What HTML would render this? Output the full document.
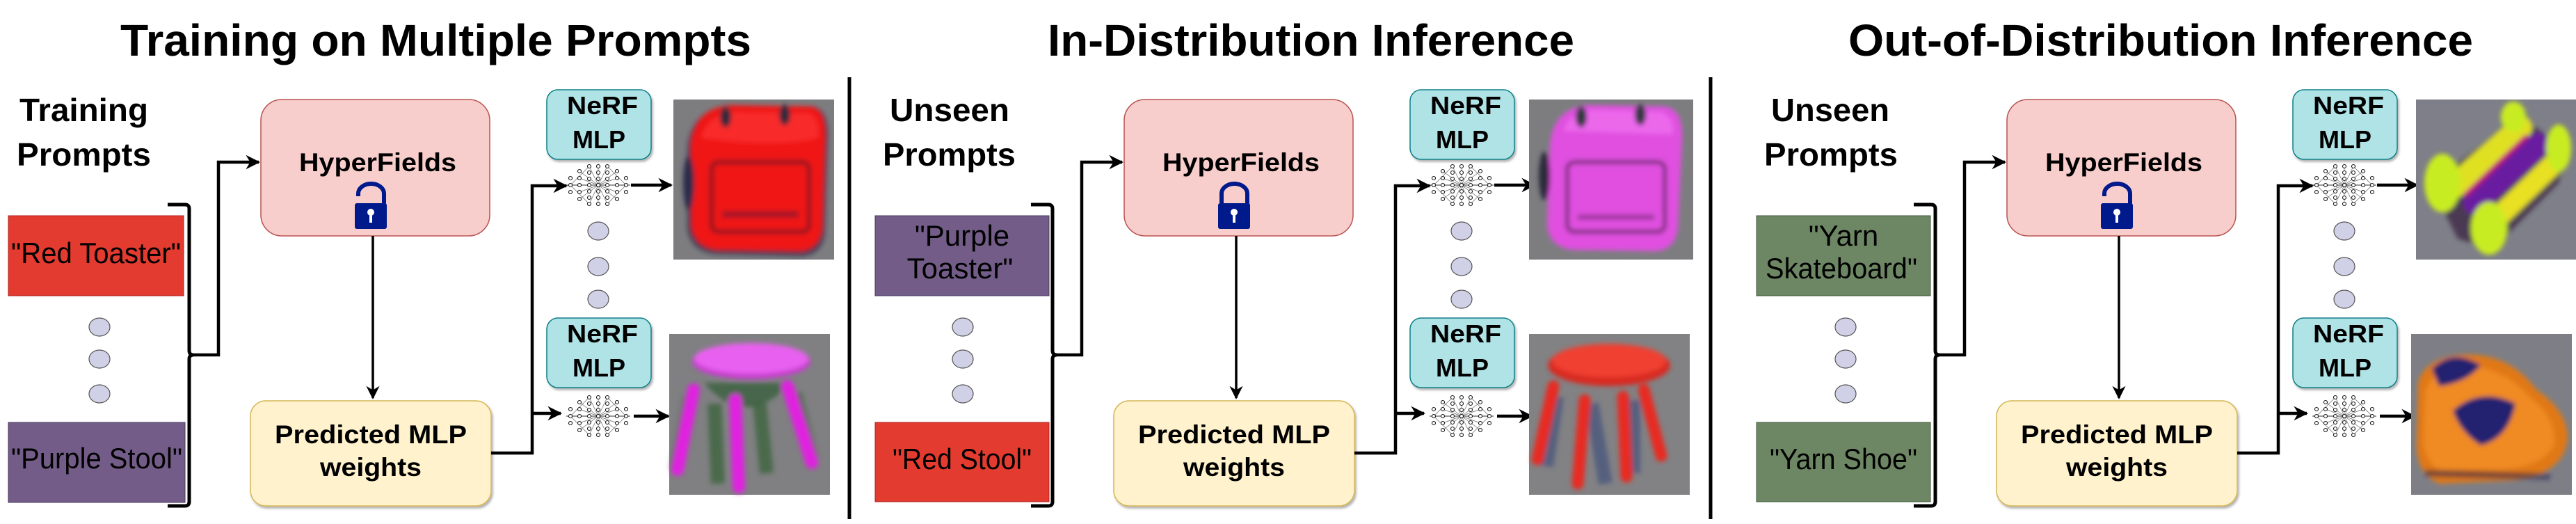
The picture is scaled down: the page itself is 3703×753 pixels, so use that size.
<!DOCTYPE html>
<html><head><meta charset="utf-8"><style>
html,body{margin:0;padding:0;background:#fff;}
svg{display:block;}
text{font-family:"Liberation Sans",Arial,sans-serif;}
</style></head><body>
<svg width="3703" height="753" viewBox="0 0 3703 753" xmlns="http://www.w3.org/2000/svg">
<defs>
<marker id="ah" viewBox="0 0 10 10" refX="9" refY="5" markerWidth="4.6" markerHeight="4.6" orient="auto" markerUnits="strokeWidth">
<path d="M0,0 L10,5 L0,10 L3,5 z" fill="#000"/></marker>
<marker id="ah2" viewBox="0 0 10 10" refX="9" refY="5" markerWidth="5.5" markerHeight="5.5" orient="auto" markerUnits="strokeWidth">
<path d="M0,0 L10,5 L0,10 L3,5 z" fill="#000"/></marker>
<filter id="bl" x="-20%" y="-20%" width="140%" height="140%"><feGaussianBlur stdDeviation="5"/></filter>
<filter id="bl2" x="-20%" y="-20%" width="140%" height="140%"><feGaussianBlur stdDeviation="3.5"/></filter>
<filter id="sh"><feDropShadow dx="2" dy="3" stdDeviation="1.5" flood-color="#000" flood-opacity="0.3"/></filter>
<g id="net" fill="#fff" stroke="#111" stroke-width="1.1">
<line x1="-46" y1="0" x2="46" y2="0" stroke="#333" stroke-width="1"/>
<g stroke="#666" stroke-width="0.7">
<line x1="-40" y1="0" x2="-13" y2="-27"/><line x1="-40" y1="0" x2="-13" y2="27"/>
<line x1="40" y1="0" x2="13" y2="-27"/><line x1="40" y1="0" x2="13" y2="27"/>
<line x1="-27" y1="-20" x2="27" y2="20"/><line x1="-27" y1="20" x2="27" y2="-20"/>
<line x1="-27" y1="-10" x2="27" y2="10"/><line x1="-27" y1="10" x2="27" y2="-10"/>
<line x1="0" y1="-30" x2="0" y2="30"/><line x1="-13" y1="-27" x2="13" y2="27"/><line x1="13" y1="-27" x2="-13" y2="27"/></g>
<circle cx="-40" cy="-10" r="2.5"/><circle cx="-40" cy="0" r="2.5"/><circle cx="-40" cy="10" r="2.5"/>
<circle cx="-27" cy="-20" r="2.5"/><circle cx="-27" cy="-10" r="2.5"/><circle cx="-27" cy="0" r="2.5"/><circle cx="-27" cy="10" r="2.5"/><circle cx="-27" cy="20" r="2.5"/>
<circle cx="-13" cy="-27" r="2.5"/><circle cx="-13" cy="-18" r="2.5"/><circle cx="-13" cy="-9" r="2.5"/><circle cx="-13" cy="0" r="2.5"/><circle cx="-13" cy="9" r="2.5"/><circle cx="-13" cy="18" r="2.5"/><circle cx="-13" cy="27" r="2.5"/>
<circle cx="0" cy="-27" r="2.5"/><circle cx="0" cy="-18" r="2.5"/><circle cx="0" cy="-9" r="2.5"/><circle cx="0" cy="0" r="2.5"/><circle cx="0" cy="9" r="2.5"/><circle cx="0" cy="18" r="2.5"/><circle cx="0" cy="27" r="2.5"/>
<circle cx="13" cy="-27" r="2.5"/><circle cx="13" cy="-18" r="2.5"/><circle cx="13" cy="-9" r="2.5"/><circle cx="13" cy="0" r="2.5"/><circle cx="13" cy="9" r="2.5"/><circle cx="13" cy="18" r="2.5"/><circle cx="13" cy="27" r="2.5"/>
<circle cx="27" cy="-20" r="2.5"/><circle cx="27" cy="-10" r="2.5"/><circle cx="27" cy="0" r="2.5"/><circle cx="27" cy="10" r="2.5"/><circle cx="27" cy="20" r="2.5"/>
<circle cx="40" cy="-10" r="2.5"/><circle cx="40" cy="0" r="2.5"/><circle cx="40" cy="10" r="2.5"/>
</g>
<g id="dot"><ellipse rx="15" ry="13" fill="#d0d0e6" stroke="#555" stroke-width="1.2"/></g>
<g id="lockU" fill="#001a8c">
<path d="M515,282 V278 A18.5,14 0 0 1 552,278 V294" fill="none" stroke="#001a8c" stroke-width="6"/>
<rect x="510" y="292" width="46" height="37" rx="3"/>
<circle cx="533" cy="305" r="5" fill="#fff"/><rect x="531" y="305" width="4" height="15" fill="#fff"/>
</g>
<g id="lockL" fill="#001a8c">
<path d="M515,294 V278 A18.5,14 0 0 1 552,278 V294" fill="none" stroke="#001a8c" stroke-width="6"/>
<rect x="510" y="292" width="46" height="37" rx="3"/>
<circle cx="533" cy="305" r="5" fill="#fff"/><rect x="531" y="305" width="4" height="15" fill="#fff"/>
</g>
<g id="common">
<path d="M241,294 H266 Q272,294 272,300 V504 Q272,510 278,510 Q272,510 272,516 V721 Q272,727 266,727 H241" fill="none" stroke="#000" stroke-width="5"/>
<path d="M272,510 H314 V233 H372" fill="none" stroke="#000" stroke-width="4.5" marker-end="url(#ah)"/>
<rect x="375" y="143" width="329" height="196" rx="30" fill="#f8cecc" stroke="#b85450" stroke-width="1.5"/>
<text x="543" y="246" font-size="37" font-weight="bold" text-anchor="middle" textLength="226" lengthAdjust="spacingAndGlyphs">HyperFields</text>
<line x1="536" y1="339" x2="536" y2="572" stroke="#000" stroke-width="3.5" marker-end="url(#ah2)"/>
<rect x="360" y="576" width="346" height="151" rx="22" fill="#fff2cc" stroke="#d6b656" stroke-width="1.5" filter="url(#sh)"/>
<text x="533" y="637" font-size="37" font-weight="bold" text-anchor="middle" textLength="276" lengthAdjust="spacingAndGlyphs">Predicted MLP</text>
<text x="533" y="684" font-size="37" font-weight="bold" text-anchor="middle" textLength="146" lengthAdjust="spacingAndGlyphs">weights</text>
<path d="M706,651 H765 V267 H814" fill="none" stroke="#000" stroke-width="4.5" marker-end="url(#ah)"/>
<path d="M765,594 H806" fill="none" stroke="#000" stroke-width="4.5" marker-end="url(#ah)"/>
<use href="#net" x="860" y="266"/>
<use href="#net" x="860" y="598"/>
<path d="M907,266 H965" fill="none" stroke="#000" stroke-width="4.5" marker-end="url(#ah)"/>
<path d="M911,598 H961" fill="none" stroke="#000" stroke-width="4.5" marker-end="url(#ah)"/>
<rect x="786" y="129" width="150" height="100" rx="16" fill="#b0e3e6" stroke="#0e8088" stroke-width="1.5" filter="url(#sh)"/>
<text x="866" y="164" font-size="36" font-weight="bold" text-anchor="middle" textLength="102" lengthAdjust="spacingAndGlyphs">NeRF</text>
<text x="861" y="213" font-size="36" font-weight="bold" text-anchor="middle">MLP</text>
<rect x="786" y="457" width="150" height="100" rx="16" fill="#b0e3e6" stroke="#0e8088" stroke-width="1.5" filter="url(#sh)"/>
<text x="866" y="492" font-size="36" font-weight="bold" text-anchor="middle" textLength="102" lengthAdjust="spacingAndGlyphs">NeRF</text>
<text x="861" y="541" font-size="36" font-weight="bold" text-anchor="middle">MLP</text>
<use href="#dot" x="860" y="332"/><use href="#dot" x="860" y="383"/><use href="#dot" x="860" y="430"/>
<use href="#dot" x="143" y="470"/><use href="#dot" x="143" y="516"/><use href="#dot" x="143" y="566"/>
</g>
<clipPath id="ic"><rect x="0" y="0" width="231" height="230"/></clipPath>
</defs>

<text x="173" y="80" font-size="64" font-weight="bold" textLength="907" lengthAdjust="spacingAndGlyphs">Training on Multiple Prompts</text>
<text x="1506" y="80" font-size="64" font-weight="bold" textLength="757" lengthAdjust="spacingAndGlyphs">In-Distribution Inference</text>
<text x="2657" y="80" font-size="64" font-weight="bold" textLength="898" lengthAdjust="spacingAndGlyphs">Out-of-Distribution Inference</text>

<line x1="1221" y1="111" x2="1221" y2="746" stroke="#000" stroke-width="5"/>
<line x1="2459" y1="111" x2="2459" y2="746" stroke="#000" stroke-width="5"/>

<!-- Panel 1 -->
<use href="#common"/>
<use href="#lockU"/>
<text x="28" y="174" font-size="46" font-weight="bold" textLength="185" lengthAdjust="spacingAndGlyphs">Training</text>
<text x="24" y="238" font-size="46" font-weight="bold" textLength="193" lengthAdjust="spacingAndGlyphs">Prompts</text>
<rect x="12" y="310" width="252" height="115" fill="#e43b30" stroke="#b02020" stroke-width="1"/>
<text x="138" y="378" font-size="42" text-anchor="middle" textLength="244" lengthAdjust="spacingAndGlyphs">"Red Toaster"</text>
<rect x="12" y="607" width="254" height="115" fill="#735d88" stroke="#4a3a60" stroke-width="1"/>
<text x="139" y="673" font-size="42" text-anchor="middle" textLength="246" lengthAdjust="spacingAndGlyphs">"Purple Stool"</text>
<g transform="translate(968,143)">
<rect width="231" height="230" fill="#7d7d80"/>
<g clip-path="url(#ic)"><g filter="url(#bl2)">
<path d="M20,70 Q25,15 80,10 L200,10 Q225,15 222,60 L218,190 Q215,222 185,225 L60,222 Q25,218 20,185 Z" fill="#1e2040" opacity="0.7"/>
<path d="M25,65 Q30,12 82,8 L198,10 Q220,14 218,58 L214,185 Q210,215 183,218 L62,216 Q30,212 26,182 Z" fill="#f01818"/>
<path d="M40,55 Q50,20 90,18 L195,20 Q210,25 208,55 Q150,70 40,55Z" fill="#ff3a3a" opacity="0.6"/>
<rect x="55" y="90" width="140" height="100" rx="10" fill="none" stroke="#4a1a2a" stroke-width="6" opacity="0.6"/>
<rect x="70" y="160" width="110" height="10" fill="#3a1a3a" opacity="0.4"/>
<ellipse cx="75" cy="25" rx="8" ry="15" fill="#2a2a3a"/>
<ellipse cx="160" cy="22" rx="8" ry="15" fill="#2a2a3a"/>
<ellipse cx="22" cy="120" rx="8" ry="40" fill="#2a2a4a"/>
</g></g></g>
<g transform="translate(962,480)">
<rect width="231" height="231" fill="#808082"/>
<g filter="url(#bl2)">
<path d="M30,90 L10,195 M65,100 L70,215 M130,100 L140,200 M180,85 L205,180" stroke="#2a5a2a" stroke-width="20" opacity="0.6"/>
<path d="M50,70 Q110,140 175,70" fill="#2d5d35" opacity="0.7"/>
<path d="M35,80 L12,195 M95,95 L100,220 M170,75 L205,185" stroke="#e020e0" stroke-width="18" stroke-linecap="round" fill="none"/>
<ellipse cx="118" cy="40" rx="85" ry="25" fill="#c83ed0"/>
<ellipse cx="118" cy="35" rx="82" ry="22" fill="#e860f0"/>
</g></g>

<!-- Panel 2 -->
<g transform="translate(1241,0)">
<use href="#common"/>
<use href="#lockL"/>
</g>
<text x="1279" y="174" font-size="46" font-weight="bold" textLength="172" lengthAdjust="spacingAndGlyphs">Unseen</text>
<text x="1269" y="238" font-size="46" font-weight="bold" textLength="191" lengthAdjust="spacingAndGlyphs">Prompts</text>
<rect x="1258" y="310" width="250" height="115" fill="#735d88" stroke="#4a3a60" stroke-width="1"/>
<text x="1383" y="353" font-size="42" text-anchor="middle">"Purple</text>
<text x="1380" y="400" font-size="42" text-anchor="middle">Toaster"</text>
<rect x="1258" y="607" width="250" height="114" fill="#e43b30" stroke="#b02020" stroke-width="1"/>
<text x="1383" y="674" font-size="42" text-anchor="middle" textLength="200" lengthAdjust="spacingAndGlyphs">"Red Stool"</text>
<g transform="translate(2198,143)">
<rect width="236" height="230" fill="#7d7d80"/>
<g filter="url(#bl2)">
<path d="M30,65 Q35,12 85,8 L195,10 Q222,14 220,58 L214,185 Q210,215 183,218 L62,216 Q30,212 26,182 Z" fill="#e050e0"/>
<path d="M50,45 Q60,15 95,15 L190,18 Q210,25 206,50 Z" fill="#f070f0" opacity="0.7"/>
<rect x="55" y="90" width="140" height="100" rx="10" fill="none" stroke="#3a1a3a" stroke-width="6" opacity="0.6"/>
<rect x="70" y="165" width="110" height="8" fill="#602060" opacity="0.5"/>
<ellipse cx="75" cy="25" rx="8" ry="15" fill="#2a3a3a"/>
<ellipse cx="160" cy="22" rx="8" ry="15" fill="#2a3a3a"/>
<ellipse cx="22" cy="110" rx="8" ry="35" fill="#2a2a3a"/>
</g></g>
<g transform="translate(2198,480)">
<rect width="231" height="231" fill="#828284"/>
<g filter="url(#bl2)">
<path d="M40,90 L25,190 M90,100 L110,215 M150,95 L150,200" stroke="#3a4a7a" stroke-width="20" opacity="0.6"/>
<path d="M35,75 L12,180 M80,95 L70,215 M165,80 L190,175 M135,90 L140,205" stroke="#e82a20" stroke-width="17" stroke-linecap="round" fill="none"/>
<ellipse cx="115" cy="45" rx="88" ry="30" fill="#d82a20"/>
<ellipse cx="115" cy="38" rx="82" ry="24" fill="#f04030"/>
</g></g>

<!-- Panel 3 -->
<g transform="translate(2510,0)">
<use href="#common"/>
<use href="#lockU"/>
</g>
<text x="2546" y="174" font-size="46" font-weight="bold" textLength="170" lengthAdjust="spacingAndGlyphs">Unseen</text>
<text x="2536" y="238" font-size="46" font-weight="bold" textLength="192" lengthAdjust="spacingAndGlyphs">Prompts</text>
<rect x="2525" y="310" width="250" height="115" fill="#6d8764" stroke="#40583a" stroke-width="1"/>
<text x="2650" y="353" font-size="42" text-anchor="middle">"Yarn</text>
<text x="2647" y="400" font-size="42" text-anchor="middle" textLength="218" lengthAdjust="spacingAndGlyphs">Skateboard"</text>
<rect x="2525" y="607" width="250" height="114" fill="#6d8764" stroke="#40583a" stroke-width="1"/>
<text x="2650" y="674" font-size="42" text-anchor="middle" textLength="212" lengthAdjust="spacingAndGlyphs">"Yarn Shoe"</text>
<g transform="translate(3473,143)">
<rect width="230" height="230" fill="#7e7f88"/>
<g clip-path="url(#ic)"><g filter="url(#bl2)">
<path d="M20,120 L150,25 L215,70 L205,120 L110,215 L60,200 Z" fill="#3a2040" opacity="0.75"/>
<path d="M55,125 L150,40" stroke="#e0e020" stroke-width="34" stroke-linecap="round"/>
<path d="M85,148 L175,65" stroke="#6a1aa0" stroke-width="34" stroke-linecap="round"/>
<path d="M115,172 L195,95" stroke="#e8e020" stroke-width="30" stroke-linecap="round"/>
<path d="M70,138 L160,52" stroke="#c01870" stroke-width="7"/>
<ellipse cx="38" cy="120" rx="26" ry="42" fill="#c8ec20"/>
<ellipse cx="105" cy="185" rx="26" ry="38" fill="#c8ec20"/>
<ellipse cx="205" cy="70" rx="18" ry="34" fill="#c8ec20"/>
<ellipse cx="140" cy="25" rx="18" ry="22" fill="#c8ec20"/>
</g></g></g>
<g transform="translate(3466,480)">
<rect width="231" height="231" fill="#7e7f86"/>
<g filter="url(#bl2)">
<path d="M10,70 Q20,35 70,30 Q140,25 180,80 Q225,110 225,150 Q220,200 150,210 L40,215 Q5,200 8,150 Z" fill="#e07818"/>
<path d="M20,85 Q30,50 70,45 Q130,45 170,90 Q210,120 205,160 Q190,190 130,195 L40,195 Q15,180 18,140 Z" fill="#f08a20"/>
<path d="M30,50 Q60,20 100,45 Q80,70 40,75 Z" fill="#202070"/>
<path d="M60,110 Q100,75 150,100 Q140,150 100,160 Q70,140 60,110Z" fill="#202070"/>
<path d="M20,200 L200,205" stroke="#202050" stroke-width="10" opacity="0.5"/>
</g></g>
</svg>
</body></html>
